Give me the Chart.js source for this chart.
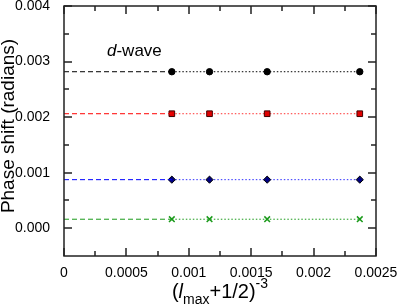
<!DOCTYPE html>
<html>
<head>
<meta charset="utf-8">
<script src="https://cdn.jsdelivr.net/npm/chart.js@4/dist/chart.umd.min.js"></script>
<style>
  html, body { margin: 0; padding: 0; background: #fff; }
</style>
</head>
<body>
<canvas id="phaseChart" width="399" height="307"></canvas>
<script>
// (lmax + 1/2)^-3 for lmax = 10, 9, 8, 7
const xInvL = [0.000864, 0.001166, 0.001628, 0.00237]

const phaseBlack = [0.002817, 0.002817, 0.002817, 0.002817]
const phaseRed = [0.002061, 0.002061, 0.002061, 0.002061]
const phaseBlue = [0.000874, 0.000874, 0.000874, 0.000874]
const phaseGreen = [0.000162, 0.000162, 0.000162, 0.000162]

// extrapolated limits at x = 0
const limitX = [0, 0.000864]
const limitBlack = [0.002817, 0.002817]
const limitRed = [0.002061, 0.002061]
const limitBlue = [0.000874, 0.000874]
const limitGreen = [0.000162, 0.000162]

const xMajor = [0, 0.0005, 0.001, 0.0015, 0.002, 0.0025]
const xMinor = [0.00025, 0.00075, 0.00125, 0.00175, 0.00225]
const yMajor = [0, 0.001, 0.002, 0.003, 0.004]
const yMinor = [0.0005, 0.0015, 0.0025, 0.0035]

const FONT = '"Liberation Sans", Arial, Helvetica, sans-serif'

function pts(xs, ys) {
  return xs.map((x, i) => ({ x, y: ys[i] }))
}

function dashed(xs, ys, color) {
  return {
    data: pts(xs, ys),
    showLine: true,
    borderColor: color,
    borderWidth: 1,
    borderDash: [5, 3],
    pointRadius: 0
  }
}

function dotted(xs, ys, color, style, fill, edge, radius) {
  return {
    data: pts(xs, ys),
    showLine: true,
    borderColor: color,
    borderWidth: 1,
    borderDash: [1.5, 2],
    pointStyle: style,
    pointRadius: radius,
    pointBackgroundColor: fill,
    pointBorderColor: edge,
    pointBorderWidth: style === 'crossRot' ? 1.5 : 1
  }
}

const decorate = {
  id: 'decorate',
  afterDraw(chart) {
    const { ctx, chartArea: a, scales: { x, y } } = chart
    ctx.save()
    ctx.strokeStyle = '#222'
    ctx.lineWidth = 1.5
    ctx.strokeRect(a.left, a.top, a.right - a.left, a.bottom - a.top)

    ctx.beginPath()
    const xt = (v, len) => {
      const px = Math.round(x.getPixelForValue(v))
      ctx.moveTo(px, a.bottom); ctx.lineTo(px, a.bottom - len)
      ctx.moveTo(px, a.top); ctx.lineTo(px, a.top + len)
    }
    const yt = (v, len) => {
      const py = Math.round(y.getPixelForValue(v))
      ctx.moveTo(a.left, py); ctx.lineTo(a.left + len, py)
      ctx.moveTo(a.right, py); ctx.lineTo(a.right - len, py)
    }
    xMajor.forEach(v => xt(v, 8))
    xMinor.forEach(v => xt(v, 5))
    yMajor.forEach(v => yt(v, 8))
    yMinor.forEach(v => yt(v, 5))
    ctx.stroke()

    ctx.fillStyle = '#000'
    ctx.textBaseline = 'alphabetic'

    // d-wave label
    ctx.textAlign = 'left'
    ctx.font = 'italic 17px ' + FONT
    ctx.fillText('d', 107, 56)
    let w = ctx.measureText('d').width
    ctx.font = '17px ' + FONT
    ctx.fillText('-wave', 107 + w, 56)

    // x title: (l_max + 1/2)^-3
    const parts = [
      { t: '(', f: '20px ', dy: 0 },
      { t: 'l', f: 'italic 20px ', dy: 0 },
      { t: 'max', f: '14px ', dy: 6 },
      { t: '+1/2)', f: '20px ', dy: 0 },
      { t: '-3', f: '14px ', dy: -10 }
    ]
    let total = 0
    parts.forEach(p => { ctx.font = p.f + FONT; p.w = ctx.measureText(p.t).width; total += p.w })
    let cx = (a.left + a.right) / 2 - total / 2
    const base = 298
    parts.forEach(p => {
      ctx.font = p.f + FONT
      ctx.fillText(p.t, cx, base + p.dy)
      cx += p.w
    })

    // y title
    ctx.translate(14, 126)
    ctx.rotate(-Math.PI / 2)
    ctx.textAlign = 'center'
    ctx.font = '19px ' + FONT
    ctx.fillText('Phase shift (radians)', 0, 0)
    ctx.restore()
  }
}

const ctx = document.getElementById('phaseChart').getContext('2d')
const phaseChart = new Chart(ctx, {
  type: 'scatter',
  data: {
    datasets: [
      dashed(limitX, limitBlack, '#000000'),
      dashed(limitX, limitRed, '#ff0000'),
      dashed(limitX, limitBlue, '#0000ff'),
      dashed(limitX, limitGreen, '#1a9a1a'),
      dotted(xInvL, phaseBlack, '#000000', 'circle', '#000000', '#000000', 3.2),
      dotted(xInvL, phaseRed, '#ff3030', 'rect', '#e00000', '#400000', 4),
      dotted(xInvL, phaseBlue, '#3030ff', 'rectRot', '#000080', '#000000', 3.6),
      dotted(xInvL, phaseGreen, '#1a9a1a', 'crossRot', '#1a9a1a', '#1a9a1a', 4)
    ]
  },
  options: {
    responsive: false,
    animation: false,
    devicePixelRatio: 1,
    layout: { padding: { top: 6, right: 23, left: 0, bottom: 0 } },
    plugins: {
      legend: { display: false },
      tooltip: { enabled: false }
    },
    scales: {
      x: {
        type: 'linear',
        min: 0,
        max: 0.0025,
        grid: { display: false },
        border: { display: false },
        afterBuildTicks: s => { s.ticks = xMajor.map(v => ({ value: v })) },
        afterFit: s => { s.height = 51; s.paddingLeft = 0; s.paddingRight = 0 },
        ticks: {
          padding: 1,
          color: '#000',
          font: { family: FONT, size: 14 },
          callback: v => String(+Number(v).toFixed(4))
        }
      },
      y: {
        type: 'linear',
        min: -0.0005,
        max: 0.004,
        grid: { display: false },
        border: { display: false },
        afterBuildTicks: s => { s.ticks = yMajor.map(v => ({ value: v })) },
        afterFit: s => { s.width = 64; s.paddingTop = 0; s.paddingBottom = 0 },
        ticks: {
          padding: 6,
          color: '#000',
          font: { family: FONT, size: 14 },
          callback: v => Number(v).toFixed(3)
        }
      }
    }
  },
  plugins: [decorate]
})
</script>
</body>
</html>
